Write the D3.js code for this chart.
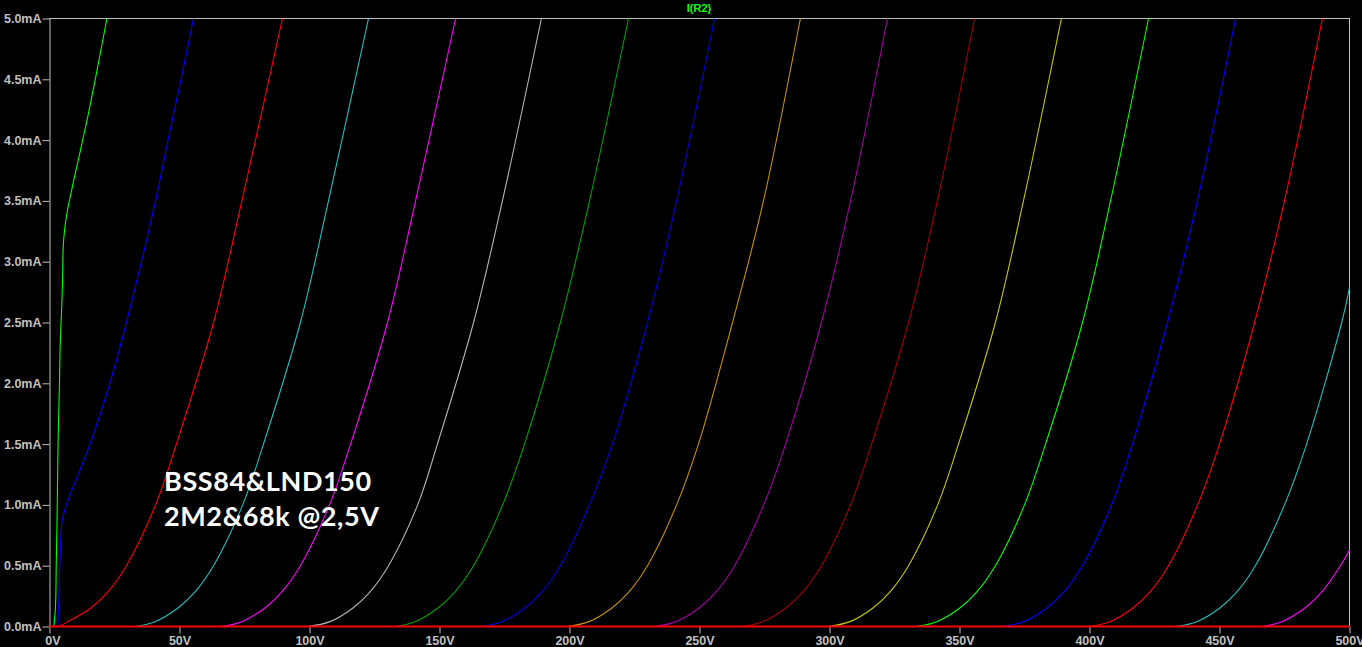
<!DOCTYPE html>
<html>
<head>
<meta charset="utf-8">
<script src="https://cdn.jsdelivr.net/npm/d3@7"></script>
<style>
  html, body { margin: 0; padding: 0; background: #000; overflow: hidden; }
  svg { display: block; }
</style>
</head>
<body>
<svg id="chart" width="1362" height="647"></svg>
<script>
// ---------------- data ----------------
const title = "I(R2)";
const xTickValues = [0, 50, 100, 150, 200, 250, 300, 350, 400, 450, 500];
const xTickLabels = ["0V","50V","100V","150V","200V","250V","300V","350V","400V","450V","500V"];
const yTickValues = [0, 0.5, 1.0, 1.5, 2.0, 2.5, 3.0, 3.5, 4.0, 4.5, 5.0];
const yTickLabels = ["0.0mA","0.5mA","1.0mA","1.5mA","2.0mA","2.5mA","3.0mA","3.5mA","4.0mA","4.5mA","5.0mA"];
const noteLines = ["BSS84&LND150", "2M2&68k @2,5V"];

// current levels (mA) used for the family of curves 3..17
const familyLevels = [0, 0, 0.04, 0.15, 0.28, 0.5, 1.0, 1.5, 2.5, 3.5, 5.0];

// voltage (V) of each trace at each current point
const traceV = [
  [0, 1.65, 2.3, 2.6, 2.9, 3.3, 3.85, 4.1, 4.5, 5.0, 5.27, 5.8, 6.8, 9.35, 14.7, 17.6, 22.1],
  [0, 3.2, 3.6, 4.0, 4.9, 6.5, 15.6, 23.5, 29.6, 40.8, 45.6, 50.6, 55.4],
  [0, 3.5, 7.1, 15.8, 22.3, 29.6, 40.8, 48.8, 63.1, 74.0, 89.6],
  [0, 33.1, 40.6, 49.3, 55.8, 63.1, 74.3, 82.3, 96.5, 107.3, 122.7],
  [0, 65.8, 74.0, 82.7, 89.2, 96.5, 107.7, 115.8, 130.0, 140.8, 156.2],
  [0, 99.2, 107.9, 116.6, 123.1, 130.4, 141.6, 149.2, 163.1, 174.2, 189.2],
  [0, 133.1, 140.6, 149.3, 155.8, 163.1, 174.3, 182.7, 196.5, 207.7, 222.7],
  [0, 165.8, 174.0, 182.7, 189.2, 196.5, 207.7, 216.5, 230.0, 241.2, 255.8],
  [0, 199.2, 207.5, 216.2, 222.7, 230.0, 241.2, 249.6, 262.7, 274.6, 288.8],
  [0, 232.7, 241.0, 249.7, 256.2, 263.5, 274.7, 283.1, 296.9, 308.1, 322.3],
  [0, 266.2, 274.4, 283.1, 289.6, 296.9, 308.1, 316.2, 330.4, 341.5, 355.8],
  [0, 299.6, 307.9, 316.6, 323.1, 330.4, 341.6, 349.6, 363.8, 374.6, 389.2],
  [0, 333.1, 341.3, 350.0, 356.5, 363.8, 375.0, 383.1, 397.3, 408.1, 422.7],
  [0, 366.5, 374.8, 383.5, 390.0, 397.3, 408.5, 416.5, 430.0, 441.5, 456.2],
  [0, 400.0, 407.9, 416.6, 423.1, 430.4, 441.6, 450.0, 463.5, 475.0, 489.6],
  [0, 433.1, 441.3, 450.0, 456.5, 463.8, 475.0, 483.5, 497.0, 500],
  [0, 466.5, 474.0, 482.7, 489.2, 496.5, 500],
  [0, 500]
];
// current (mA) of each trace
const traceI = [
  [0, 0, 0.16, 0.52, 0.87, 1.5, 2.02, 2.30, 2.52, 2.82, 3.12, 3.26, 3.41, 3.67, 4.19, 4.5, 5.0],
  [0, 0, 0.24, 0.52, 0.87, 1.0, 1.5, 2.02, 2.5, 3.5, 4.0, 4.5, 5.0],
  familyLevels, familyLevels, familyLevels, familyLevels, familyLevels, familyLevels,
  familyLevels, familyLevels, familyLevels, familyLevels, familyLevels, familyLevels,
  familyLevels,
  [0, 0, 0.04, 0.15, 0.28, 0.5, 1.0, 1.5, 2.5, 2.79],
  [0, 0, 0.04, 0.15, 0.28, 0.5, 0.63],
  [0, 0]
];
const traceColors = [
  "#00ff00", "#0000ff", "#ff0000", "#1fbfbf", "#ff00ff", "#b4b4b4",
  "#00a000", "#0000d8", "#c89000", "#a000a0", "#a00000", "#c8c800",
  "#00ff00", "#0000ff", "#ff0000", "#1fbfbf", "#ff00ff", "#ff0000"
];

// ---------------- drawing ----------------
const W = 1362, H = 647;
const svg = d3.select("#chart");
svg.append("rect").attr("width", W).attr("height", H).attr("fill", "#000");

const x = d3.scaleLinear().domain([0, 500]).range([49, 1349]);
const y = d3.scaleLinear().domain([0, 5]).range([626, 18]);

const axisColor = "#c0c0c0";
const fontFam = "'Liberation Sans', Arial, sans-serif";

// clip
svg.append("clipPath").attr("id", "plotclip")
  .append("rect").attr("x", x(0)).attr("y", y(5) - 1)
  .attr("width", x(500) - x(0) + 1).attr("height", y(0) - y(5) + 3);

// frame: top and right border
svg.append("line").attr("x1", x(0)).attr("x2", x(500)).attr("y1", y(5) + 0.5).attr("y2", y(5) + 0.5)
  .attr("stroke", axisColor).attr("stroke-width", 1);
svg.append("line").attr("x1", x(500) + 0.5).attr("x2", x(500) + 0.5).attr("y1", y(5)).attr("y2", y(0))
  .attr("stroke", axisColor).attr("stroke-width", 1);

// y axis
const yAxis = d3.axisLeft(y).tickValues(yTickValues)
  .tickFormat((d, i) => yTickLabels[i]).tickSize(7).tickSizeOuter(0).tickPadding(1);
const gy = svg.append("g").attr("transform", `translate(${x(0) + 0.5},0.5)`).call(yAxis);
gy.selectAll("path,line").attr("stroke", axisColor);
gy.selectAll("text").attr("fill", axisColor).attr("font-family", fontFam)
  .attr("font-size", 12.5).attr("font-weight", "bold");

// x axis
const xAxis = d3.axisBottom(x).tickValues(xTickValues)
  .tickFormat((d, i) => xTickLabels[i]).tickSize(7).tickSizeOuter(0).tickPadding(3);
const gx = svg.append("g").attr("transform", `translate(0.5,${y(0) + 0.5})`).call(xAxis);
gx.select("path.domain").remove();
gx.selectAll("line").attr("stroke", axisColor);
gx.selectAll("text").attr("fill", axisColor).attr("font-family", fontFam)
  .attr("font-size", 12.5).attr("font-weight", "bold")
  .attr("dx", (d, i) => i === 0 ? 3 : 0);

// traces
const curveLine = d3.line()
  .x(d => x(d[0]) + 0.5)
  .y(d => y(d[1]) + 0.5)
  .curve(d3.curveCatmullRom.alpha(0.5));
const flatLine = d3.line()
  .x(d => x(d[0]) + 0.5)
  .y(d => y(d[1]) + 0.5);

const traces = traceV.map((vs, k) => vs.map((v, j) => [v, traceI[k][j]]));
const gt = svg.append("g").attr("clip-path", "url(#plotclip)");
traces.forEach((pts, k) => {
  const isZero = k === traces.length - 1;
  // split at the last zero-current point: flat lead-in + rising part
  let split = 0;
  pts.forEach((p, j) => { if (p[1] === 0) split = j; });
  const flatPart = pts.slice(0, split + 1);
  const risePart = pts.slice(split);
  const col = traceColors[k];
  if (flatPart.length > 1) {
    gt.append("path").attr("d", flatLine(flatPart)).attr("fill", "none")
      .attr("stroke", col).attr("stroke-width", isZero ? 2 : 1.1);
  }
  if (risePart.length > 1) {
    gt.append("path").attr("d", curveLine(risePart)).attr("fill", "none")
      .attr("stroke", col).attr("stroke-width", 1.1);
  }
});

// title
svg.append("text").attr("x", (x(0) + x(500)) / 2).attr("y", 12)
  .attr("text-anchor", "middle").attr("fill", "#00ff00")
  .attr("font-family", fontFam).attr("font-size", 11).attr("font-weight", "bold")
  .text(title);

// annotation
const note = svg.append("text").attr("fill", "#ffffff")
  .attr("font-family", "Lato, 'Noto Sans', sans-serif").attr("font-weight", "bold")
  .attr("font-size", 27);
noteLines.forEach((t, i) => {
  note.append("tspan").attr("x", 164).attr("y", 491 + i * 35).attr("letter-spacing", 0.6).text(t);
});
</script>
</body>
</html>
